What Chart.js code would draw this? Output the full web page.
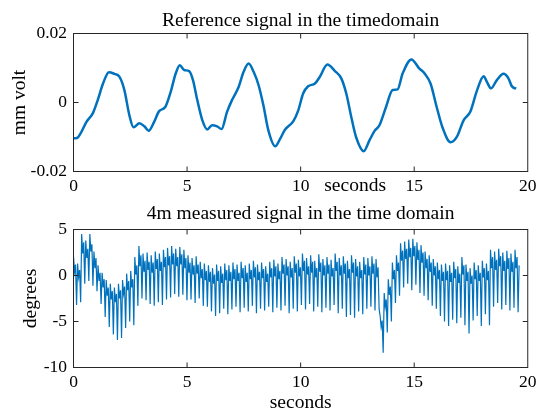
<!DOCTYPE html>
<html>
<head>
<meta charset="utf-8">
<script src="https://cdn.jsdelivr.net/npm/chart.js@4/dist/chart.umd.min.js"></script>
<style>
  html, body { margin: 0; padding: 0; background: #fff; }
  #wrap { position: relative; width: 541px; height: 415px; overflow: hidden; background: #fff; }
  #wrap canvas { position: absolute; left: 0; }
</style>
</head>
<body>
<div id="wrap">
  <canvas id="refChart" width="541" height="200" style="top:0;width:541px;height:200px"></canvas>
  <canvas id="measChart" width="541" height="215" style="top:200px;width:541px;height:215px"></canvas>
</div>
<script>
// ---- reference signal (seconds / mm volt) ----
const refTime = [0.0, 0.15, 0.35, 0.57, 0.86, 1.08, 1.3, 1.56, 1.8, 2.02, 2.24, 2.46, 2.64, 2.9, 3.12, 3.31,
  3.55, 3.77, 4.04, 4.28, 4.5, 4.68, 4.87, 5.09, 5.26, 5.45, 5.67, 5.89, 6.1, 6.32, 6.52, 6.76, 6.98, 7.27,
  7.49, 7.71, 7.93, 8.15, 8.36, 8.58, 8.88, 9.1, 9.31, 9.68, 9.9, 10.11, 10.33, 10.63, 10.84, 11.18, 11.5,
  11.79, 12.01, 12.23, 12.44, 12.78, 13.03, 13.25, 13.47, 13.76, 14.05, 14.27, 14.49, 14.88, 15.22, 15.46,
  15.72, 15.99, 16.24, 16.6, 16.89, 17.18, 17.47, 17.77, 18.06, 18.2, 18.38, 18.64, 18.93, 19.15, 19.3, 19.49];
const refValue = [-0.0104, -0.0103, -0.0085, -0.0056, -0.0030, 0.0010, 0.0055, 0.0088, 0.0083, 0.0075, 0.0036,
  -0.0037, -0.0072, -0.0060, -0.0069, -0.0082, -0.0056, -0.0025, -0.0013, 0.0031, 0.0084, 0.0108, 0.0094,
  0.0091, 0.0065, 0.0007, -0.0051, -0.0078, -0.0066, -0.0069, -0.0077, -0.0027, 0.0007, 0.0045, 0.0089,
  0.0113, 0.0089, 0.0050, -0.0008, -0.0081, -0.0127, -0.0105, -0.0079, -0.0054, -0.0022, 0.0026, 0.0047,
  0.0055, 0.0074, 0.0110, 0.0092, 0.0070, 0.0026, -0.0042, -0.0100, -0.0141, -0.0110, -0.0083, -0.0066,
  -0.0013, 0.0036, 0.0038, 0.0084, 0.0125, 0.0099, 0.0084, 0.0055, -0.0013, -0.0071, -0.0115, -0.0098,
  -0.0051, -0.0027, 0.0036, 0.0076, 0.0060, 0.0041, 0.0065, 0.0083, 0.0070, 0.0047, 0.0040];

// ---- measured signal at 4 m (degrees), sampled every sampleInterval seconds ----
// each group of four samples: crest, trough of the ripple, second crest, dip
const sampleInterval = 0.045;
const measPart1 = [
  2.1,0.4,1.2,-3.2,  1.3,-0.2,0.6,-2.9,  4.5,2.4,3.6,-0.9,  3.8,1.9,2.9,-0.6,
  4.5,2.6,3.4,-1.1,  2.6,0.8,1.9,-1.7,  1.1,-0.6,0.3,-3.1,  0.3,-1.3,-0.4,-4.5,
  -0.5,-2.2,-1.3,-5.6,  -0.9,-2.6,-1.7,-6.4,  -1.3,-2.9,-2.0,-7.0,  -0.9,-2.5,-1.6,-6.8,
  -0.5,-2.0,-1.2,-5.7,  0.2,-1.6,-0.6,-5.0,  0.5,-1.3,-0.4,-5.4,  2.0,0.1,1.1,-3.3,
  3.2,1.0,2.2,-2.5,  2.4,0.4,1.6,-2.7,  2.5,0.6,1.5,-3.1,  2.2,0.3,1.4,-3.3,
  2.6,0.7,1.8,-2.9,  2.4,0.5,1.5,-3.2,  2.8,0.9,2.0,-2.6,  3.0,1.1,2.1,-2.4,
  3.2,1.2,2.4,-2.0,  2.9,1.0,2.0,-2.3,  3.1,1.2,2.3,-2.1,  2.8,0.8,1.9,-2.7];
const measPart2 = [
  2.2,0.3,1.4,-2.6,  1.9,0.1,1.1,-3.0,  2.1,0.2,1.2,-2.5,  1.5,-0.3,0.7,-3.3,
  1.3,-0.5,0.5,-3.4,  1.1,-0.7,0.4,-3.9,  0.8,-0.9,0.1,-4.4,  1.2,-0.6,0.5,-4.1,
  1.0,-0.8,0.2,-3.6,  1.3,-0.5,0.6,-4.2,  1.1,-0.6,0.4,-3.7,  1.4,-0.4,0.7,-3.4,
  1.2,-0.6,0.3,-4.0,  1.5,-0.3,0.8,-3.5,  1.1,-0.7,0.3,-3.9,  1.3,-0.4,0.6,-3.3,
  1.6,-0.2,0.9,-4.1,  1.2,-0.5,0.4,-3.6,  1.4,-0.3,0.7,-3.8,  1.0,-0.7,0.2,-3.4,
  1.5,-0.2,0.8,-4.0,  1.7,-0.1,1.0,-3.5,  1.3,-0.4,0.5,-3.8,  2.0,0.2,1.2,-3.3,
  1.8,0.0,1.0,-4.1,  1.5,-0.2,0.8,-3.6,  2.1,0.3,1.3,-3.9];
const measPart3 = [
  1.7,-0.1,0.9,-3.2,  2.4,0.5,1.6,-3.7,  1.9,0.1,1.0,-3.1,  2.2,0.3,1.5,-3.9,
  1.6,-0.2,0.8,-3.4,  2.3,0.4,1.4,-4.0,  1.8,0.0,1.1,-3.5,  2.0,0.2,1.2,-3.8,
  1.7,-0.1,0.8,-3.2,  2.4,0.5,1.5,-4.1,  1.9,0.0,1.1,-3.6,  2.1,0.2,1.3,-4.5,
  1.6,-0.3,0.7,-4.3,  2.2,0.3,1.4,-4.6,  1.8,-0.1,1.0,-3.9,  1.5,-0.3,0.6,-4.2,
  2.0,0.1,1.2,-3.6,  1.9,0.0,1.0,-3.4,  2.1,0.2,1.3,-3.8,  1.8,-0.2,0.9,-3.6,
  -4.4,-5.6,-4.9,-8.4,  -1.9,-3.4,-2.6,-6.2,  -0.4,-2.1,-1.2,-5.0,  1.4,-0.4,0.6,-3.0,
  2.2,0.5,1.4,-2.2,  3.5,1.6,2.7,-1.3,  3.7,1.8,2.9,-0.9];
const measPart4 = [
  3.9,2.0,3.0,-1.6,  4.0,2.1,3.2,-1.0,  3.6,1.7,2.8,-1.9,  3.3,1.4,2.5,-2.2,
  2.6,0.8,1.8,-2.7,  2.2,0.4,1.4,-3.3,  1.8,0.0,1.0,-3.6,  1.4,-0.4,0.6,-4.4,
  1.2,-0.6,0.4,-5.0,  1.3,-0.5,0.5,-5.5,  1.1,-0.7,0.3,-4.8,  1.5,-0.3,0.7,-5.2,
  1.0,-0.8,0.2,-4.6,  2.0,0.1,1.1,-5.4,  1.2,-0.6,0.4,-6.3,  0.8,-0.9,0.0,-4.9,
  1.4,-0.4,0.6,-4.4,  1.1,-0.6,0.3,-5.5,  1.6,-0.2,0.8,-4.2,  1.3,-0.5,0.5,-5.4,
  2.8,0.8,2.0,-3.4,  2.6,0.6,1.7,-3.0,  2.9,1.0,2.1,-3.7,  2.5,0.5,1.6,-3.2,
  2.7,0.7,1.9,-3.8,  2.4,0.4,1.5,-3.5,  2.8,0.8,2.0,-4.0,  1.1];

// ---- axis ticks ----
const timeTicks = [0, 5, 10, 15, 20];
const timeTickLabels = ['0', '5', '10', '15', '20'];
const refTicks = [-0.02, 0, 0.02];
const refTickLabels = ['-0.02', '0', '0.02'];
const measTicks = [-10, -5, 0, 5];
const measTickLabels = ['-10', '-5', '0', '5'];

const SERIF = '"Liberation Serif", "Times New Roman", serif';
const LINE_BLUE = '#0072BD';
const INK = '#262626';

const refPoints = refTime.map((t, i) => ({ x: t, y: refValue[i] }));
const measValues = measPart1.concat(measPart2, measPart3, measPart4);
const measPoints = measValues.map((v, i) => ({ x: i * sampleInterval, y: v }));

function fixedTicks(values) {
  return (scale) => { scale.ticks = values.map(v => ({ value: v })); };
}
function labelFrom(values, labels) {
  return (value) => { const i = values.findIndex(v => Math.abs(v - value) < 1e-9); return i >= 0 ? labels[i] : ''; };
}

// axes box with inward tick marks on all four sides, plus title text
const axesFrame = {
  id: 'axesFrame',
  afterDraw(chart, args, opts) {
    const { ctx, chartArea: a, scales } = chart;
    ctx.save();
    ctx.strokeStyle = INK;
    ctx.lineWidth = 1;
    ctx.strokeRect(a.left, a.top, a.right - a.left, a.bottom - a.top);
    const tl = 5;
    ctx.beginPath();
    scales.x.ticks.forEach(t => {
      const px = scales.x.getPixelForValue(t.value);
      if (px <= a.left + 0.5 || px >= a.right - 0.5) return;
      ctx.moveTo(px, a.bottom); ctx.lineTo(px, a.bottom - tl);
      ctx.moveTo(px, a.top); ctx.lineTo(px, a.top + tl);
    });
    scales.y.ticks.forEach(t => {
      const py = scales.y.getPixelForValue(t.value);
      if (py <= a.top + 0.5 || py >= a.bottom - 0.5) return;
      ctx.moveTo(a.left, py); ctx.lineTo(a.left + tl, py);
      ctx.moveTo(a.right, py); ctx.lineTo(a.right - tl, py);
    });
    ctx.stroke();
    ctx.fillStyle = '#000';
    ctx.textAlign = 'center';
    ctx.textBaseline = 'middle';
    ctx.font = '19.5px ' + SERIF;
    ctx.fillText(opts.title, (a.left + a.right) / 2, opts.titleY);
    if (opts.note) {
      ctx.fillText(opts.note, scales.x.getPixelForValue(opts.noteAt), a.bottom + opts.noteOffset);
    }
    ctx.restore();
  }
};

function baseOptions(cfg) {
  return {
    responsive: false,
    animation: false,
    devicePixelRatio: 1,
    layout: { padding: { top: cfg.top, left: 0, right: 10.5, bottom: 0 } },
    plugins: {
      legend: { display: false },
      tooltip: { enabled: false },
      axesFrame: cfg.frame
    },
    scales: {
      x: {
        type: 'linear', min: 0, max: 20,
        afterBuildTicks: fixedTicks(timeTicks),
        afterFit: (s) => { s.height = cfg.xHeight; },
        grid: { display: false, drawTicks: false },
        border: { display: false },
        ticks: {
          color: '#000', padding: 4.5, maxRotation: 0, autoSkip: false,
          font: { family: SERIF, size: 17.5 },
          callback: labelFrom(timeTicks, timeTickLabels)
        },
        title: cfg.xTitle
      },
      y: {
        type: 'linear', min: cfg.yMin, max: cfg.yMax,
        afterBuildTicks: fixedTicks(cfg.yTicks),
        afterFit: (s) => { s.width = 73.5; },
        grid: { display: false, drawTicks: false },
        border: { display: false },
        ticks: {
          color: '#000', padding: 6.5, autoSkip: false,
          font: { family: SERIF, size: 17.5 },
          callback: labelFrom(cfg.yTicks, cfg.yLabels)
        },
        title: {
          display: true, text: cfg.yTitle, color: '#000',
          font: { family: SERIF, size: 19.5 },
          padding: { top: cfg.yTitlePad, bottom: 0 }
        }
      }
    }
  };
}

new Chart(document.getElementById('refChart'), {
  type: 'line',
  data: {
    datasets: [{
      data: refPoints,
      borderColor: LINE_BLUE,
      borderWidth: 2.5,
      pointRadius: 0,
      fill: false,
      cubicInterpolationMode: 'monotone'
    }]
  },
  options: baseOptions({
    top: 33.5, xHeight: 28.5,
    yMin: -0.02, yMax: 0.02, yTicks: refTicks, yLabels: refTickLabels,
    yTitle: 'mm volt', yTitlePad: 8,
    xTitle: { display: false },
    frame: { title: 'Reference signal in the timedomain', titleY: 20.5, note: 'seconds', noteAt: 12.4, noteOffset: 14.5 }
  }),
  plugins: [axesFrame]
});

new Chart(document.getElementById('measChart'), {
  type: 'line',
  data: {
    datasets: [{
      data: measPoints,
      borderColor: LINE_BLUE,
      borderWidth: 1.2,
      pointRadius: 0,
      fill: false,
      tension: 0
    }]
  },
  options: baseOptions({
    top: 29.5, xHeight: 47.5,
    yMin: -10, yMax: 5, yTicks: measTicks, yLabels: measTickLabels,
    yTitle: 'degrees', yTitlePad: 19,
    xTitle: {
      display: true, text: 'seconds', color: '#000',
      font: { family: SERIF, size: 19.5 },
      padding: { top: 0, bottom: 0 }
    },
    frame: { title: '4m measured signal in the time domain', titleY: 14 }
  }),
  plugins: [axesFrame]
});
</script>
</body>
</html>
